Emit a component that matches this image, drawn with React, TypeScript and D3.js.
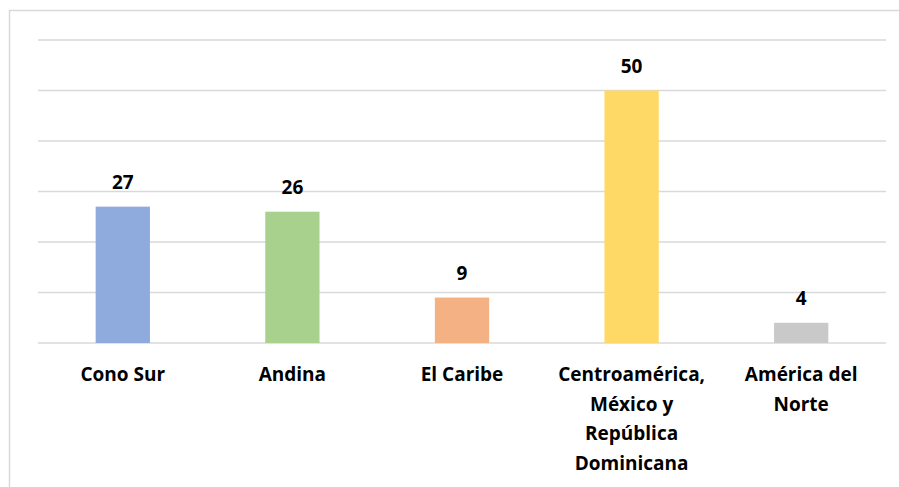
import { useEffect, useRef } from 'react';
import * as d3 from 'd3';

const categories = [
  ['Cono Sur'],
  ['Andina'],
  ['El Caribe'],
  ['Centroamérica,', 'México y', 'República', 'Dominicana'],
  ['América del', 'Norte'],
];
const values = [27, 26, 9, 50, 4];
const colors = ['#8FAADC', '#A9D18E', '#F4B183', '#FFD966', '#C9C9C9'];
const gridTicks = [0, 10, 20, 30, 40, 50, 60];

const App = () => {
  const svgRef = useRef<SVGSVGElement>(null);

  useEffect(() => {
    if (!svgRef.current) return;
    const svg = d3.select(svgRef.current);
    svg.selectAll('*').remove();

    const width = 899;
    const height = 487;
    const left = 38;
    const right = 886;
    const top = 40;
    const bottom = 343;
    const font = '"Open Sans", Lato, sans-serif';

    // outer frame
    svg.append('rect')
      .attr('x', 9.5).attr('y', 10.5)
      .attr('width', width).attr('height', height)
      .attr('fill', 'white')
      .attr('stroke', '#D9D9D9')
      .attr('stroke-width', 1.5);

    const x = d3.scaleBand<number>()
      .domain(d3.range(values.length))
      .range([left, right])
      .paddingInner(0.68)
      .paddingOuter(0.34);

    const y = d3.scaleLinear().domain([0, 60]).range([bottom, top]);

    // gridlines
    svg.append('g')
      .selectAll('line')
      .data(gridTicks)
      .join('line')
      .attr('x1', left).attr('x2', right)
      .attr('y1', d => y(d)).attr('y2', d => y(d))
      .attr('stroke', '#D9D9D9')
      .attr('stroke-width', 1.3);

    // bars
    svg.append('g')
      .selectAll('rect')
      .data(values)
      .join('rect')
      .attr('x', (_, i) => x(i)!)
      .attr('width', x.bandwidth())
      .attr('y', d => y(d))
      .attr('height', d => bottom - y(d))
      .attr('fill', (_, i) => colors[i]);

    // data labels
    svg.append('g')
      .selectAll('text')
      .data(values)
      .join('text')
      .attr('x', (_, i) => x(i)! + x.bandwidth() / 2)
      .attr('y', d => y(d) - 18)
      .attr('text-anchor', 'middle')
      .attr('font-family', font)
      .attr('font-weight', 'bold')
      .attr('font-size', 19)
      .attr('fill', '#000')
      .text(d => d);

    // category labels
    const labels = svg.append('g')
      .selectAll('text')
      .data(categories)
      .join('text')
      .attr('x', (_, i) => x(i)! + x.bandwidth() / 2)
      .attr('y', bottom + 38)
      .attr('text-anchor', 'middle')
      .attr('font-family', font)
      .attr('font-weight', 'bold')
      .attr('font-size', 19)
      .attr('fill', '#000');

    labels.each(function (lines, i) {
      const t = d3.select(this);
      lines.forEach((line, j) => {
        t.append('tspan')
          .attr('x', x(i)! + x.bandwidth() / 2)
          .attr('dy', j === 0 ? 0 : 29.5)
          .text(line);
      });
    });
  }, []);

  return (
    <svg
      ref={svgRef}
      width={899}
      height={487}
      style={{ position: 'absolute', left: 0, top: 0, background: 'white' }}
    />
  );
};

export default App;
